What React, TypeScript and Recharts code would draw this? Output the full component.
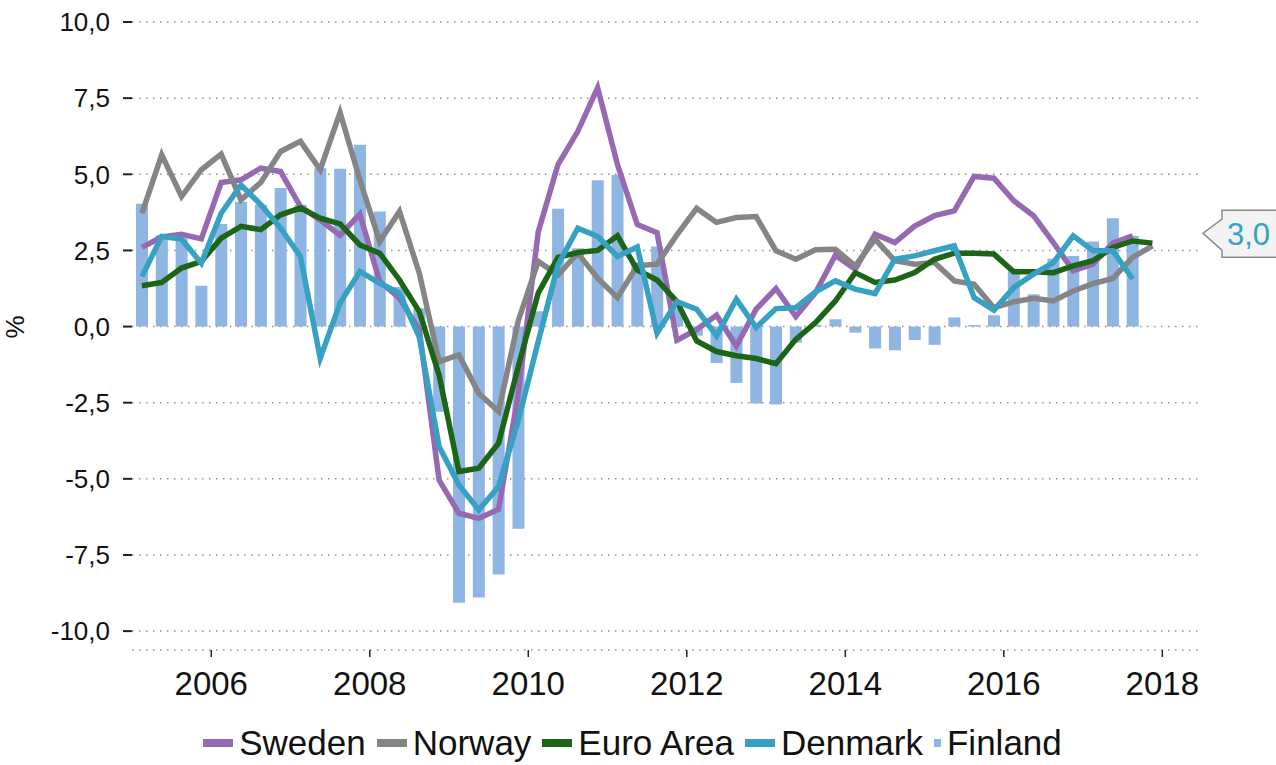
import { ComposedChart, Line, Bar, XAxis, YAxis, CartesianGrid, Legend, ReferenceDot } from 'recharts';

const FONT = '"Liberation Sans", Arial, sans-serif';

const YEARS = [2005, 2006, 2007, 2008, 2009, 2010, 2011, 2012, 2013, 2014, 2015, 2016, 2017];
const QUARTERS = YEARS.flatMap((y) => [1, 2, 3, 4].map((q) => `${y}Q${q}`));

// annual growth, %, per quarter from 2005Q1
const SWEDEN = [
  2.6, 2.94, 3.03, 2.88, 4.73, 4.82, 5.2, 5.09, 3.94, 3.5,
  3.0, 3.69, 1.48, 0.93, -0.1, -5.04, -6.13, -6.3, -6.0, -2.2,
  3.1, 5.32, 6.41, 7.84, 5.32, 3.35, 3.08, -0.45, -0.1, 0.37,
  -0.64, 0.57, 1.25, 0.33, 1.12, 2.34, 1.88, 3.03, 2.76, 3.3,
  3.64, 3.8, 4.93, 4.87, 4.13, 3.64, 2.76, 1.83, 2.05, 2.74,
  2.98,
];
const NORWAY = [
  3.72, 5.64, 4.27, 5.15, 5.66, 4.16, 4.73, 5.75, 6.08, 5.15,
  7.03, 4.82, 2.79, 3.78, 1.75, -1.15, -0.93, -2.19, -2.79, 0.2,
  2.14, 1.7, 2.41, 1.59, 0.95, 2.0, 2.05, 3.01, 3.88, 3.42,
  3.58, 3.61, 2.49, 2.21, 2.52, 2.54, 1.99, 2.87, 2.16, 2.05,
  2.1, 1.5, 1.39, 0.62, 0.81, 0.93, 0.84, 1.17, 1.41, 1.58,
  2.27, 2.65,
];
const EURO_AREA = [
  1.34, 1.45, 1.92, 2.14, 2.9, 3.29, 3.18, 3.67, 3.89, 3.56,
  3.37, 2.68, 2.41, 1.53, 0.49, -1.6, -4.76, -4.65, -3.83, -1.3,
  1.1, 2.27, 2.43, 2.5, 2.98, 1.86, 1.53, 0.82, -0.47, -0.82,
  -0.96, -1.05, -1.22, -0.42, 0.13, 0.84, 1.77, 1.45, 1.53, 1.77,
  2.21, 2.41, 2.41, 2.38, 1.8, 1.8, 1.77, 1.99, 2.16, 2.6,
  2.81, 2.74,
];
const DENMARK = [
  1.64, 2.96, 2.87, 2.08, 3.72, 4.65, 4.0, 3.23, 2.3, -1.04,
  0.77, 1.81, 1.42, 1.1, -0.35, -3.94, -5.2, -6.02, -5.26, -3.07,
  -0.5, 2.03, 3.23, 2.96, 2.3, 2.61, -0.22, 0.82, 0.57, -0.31,
  0.9, -0.03, 0.59, 0.62, 1.14, 1.5, 1.23, 1.08, 2.21, 2.32,
  2.49, 2.65, 0.95, 0.54, 1.28, 1.72, 2.1, 2.98, 2.49, 2.49,
  1.56,
];
const FINLAND = [
  4.03, 3.0, 2.9, 1.34, 3.37, 4.1, 4.0, 4.55, 4.0, 5.2,
  5.18, 5.97, 3.78, 1.3, 0.6, -2.8, -9.07, -8.9, -8.14, -6.64,
  0.5, 3.87, 2.57, 4.8, 4.98, 2.1, 2.63, 0.6, -0.3, -1.2,
  -1.85, -2.53, -2.56, -0.53, 0.05, 0.24, -0.2, -0.72, -0.78, -0.44,
  -0.6, 0.3, 0.05, 0.37, 1.9, 1.06, 2.23, 2.32, 2.79, 3.56,
  2.98,
];

const X_TICKS = [2006, 2008, 2010, 2012, 2014, 2016, 2018];
const Y_TICKS = [-10, -7.5, -5, -2.5, 0, 2.5, 5, 7.5, 10];
const CALLOUT_VALUE = 3.0;

const COLORS = {
  sweden: '#9769b3',
  norway: '#858585',
  euro: '#1c6416',
  denmark: '#36a1c2',
  finland: '#8fb5e3',
};

const LEGEND_ITEMS = [
  { name: 'Sweden', color: COLORS.sweden, kind: 'line' },
  { name: 'Norway', color: COLORS.norway, kind: 'line' },
  { name: 'Euro Area', color: COLORS.euro, kind: 'line' },
  { name: 'Denmark', color: COLORS.denmark, kind: 'line' },
  { name: 'Finland', color: COLORS.finland, kind: 'bar' },
];

// mid-quarter as decimal year
const toYear = (q: string) => Number(q.slice(0, 4)) + (Number(q.slice(5)) - 0.5) / 4;

const data = QUARTERS.map((q, i) => ({
  t: toYear(q),
  sweden: SWEDEN[i] ?? null,
  norway: NORWAY[i] ?? null,
  euro: EURO_AREA[i] ?? null,
  denmark: DENMARK[i] ?? null,
  finland: FINLAND[i] ?? null,
}));

const fmt = (v: number) => v.toFixed(1).replace('.', ',');

function ChartLegend() {
  return (
    <div
      style={{
        display: 'flex',
        justifyContent: 'center',
        alignItems: 'center',
        height: 42,
        lineHeight: '42px',
        fontFamily: FONT,
        fontSize: 35,
        color: '#111',
        whiteSpace: 'nowrap',
      }}
    >
      {LEGEND_ITEMS.map((it) => (
        <span key={it.name} style={{ display: 'flex', alignItems: 'center', marginRight: 11 }}>
          <span
            style={{
              display: 'inline-block',
              width: it.kind === 'line' ? 30 : 7,
              height: 8,
              background: it.color,
              marginRight: 6,
            }}
          />
          {it.name}
        </span>
      ))}
    </div>
  );
}

function Callout(props: any) {
  const { cx, cy } = props;
  const tx = cx + 5;
  const ty = cy - 2;
  const left = tx + 19;
  const d = `M${left},${ty - 23} L${left},${ty - 14} L${tx},${ty} L${left},${ty + 17} L${left},${ty + 24} L${left + 80},${ty + 24} L${left + 80},${ty - 23} Z`;
  return (
    <g>
      <path d={d} fill="#f3f3f3" stroke="#8a8a8a" strokeWidth={1.5} />
      <text x={left + 5} y={ty + 12} fill={COLORS.denmark} fontSize={31} fontFamily={FONT}>
        {fmt(CALLOUT_VALUE)}
      </text>
    </g>
  );
}

export default function App() {
  return (
    <div style={{ position: 'absolute', left: 0, top: 0, width: 1276, height: 765, background: '#fff' }}>
      <ComposedChart
        width={1276}
        height={765}
        data={data}
        margin={{ top: 22, right: 78, bottom: 15, left: 0 }}
      >
        <CartesianGrid
          vertical={false}
          stroke="#8f8f8f"
          strokeWidth={1.5}
          strokeDasharray="1.5 5.5"
        />
        <XAxis
          type="number"
          dataKey="t"
          domain={[2005, 2018.45]}
          ticks={X_TICKS}
          allowDataOverflow
          axisLine={false}
          tickLine={{ stroke: '#222', strokeWidth: 1.5 }}
          tickSize={7}
          tickMargin={15}
          height={58}
          tick={{ fill: '#111', fontSize: 33, fontFamily: FONT }}
        />
        <YAxis
          domain={[-10.62, 10]}
          ticks={Y_TICKS}
          allowDataOverflow
          width={132}
          axisLine={false}
          tickLine={{ stroke: '#222', strokeWidth: 2 }}
          tickSize={9}
          tickMargin={13}
          tickFormatter={fmt}
          tick={{ fill: '#111', fontSize: 26, fontFamily: FONT }}
          label={{
            content: () => (
              <text
                x={24}
                y={327}
                transform="rotate(-90 24 327)"
                textAnchor="middle"
                fontSize={26}
                fontFamily={FONT}
                fill="#111"
              >
                %
              </text>
            ),
          }}
        />
        <Legend content={<ChartLegend />} wrapperStyle={{ top: 722, left: 0, width: 1276, height: 42 }} />
        <Bar dataKey="finland" name="Finland" fill={COLORS.finland} barSize={12} isAnimationActive={false} />
        <Line type="linear" dataKey="sweden" name="Sweden" stroke={COLORS.sweden} strokeWidth={5.5} dot={false} isAnimationActive={false} />
        <Line type="linear" dataKey="norway" name="Norway" stroke={COLORS.norway} strokeWidth={5.5} dot={false} isAnimationActive={false} />
        <Line type="linear" dataKey="euro" name="Euro Area" stroke={COLORS.euro} strokeWidth={5.5} dot={false} isAnimationActive={false} />
        <Line type="linear" dataKey="denmark" name="Denmark" stroke={COLORS.denmark} strokeWidth={5.5} dot={false} isAnimationActive={false} />
        <ReferenceDot x={2018.45} y={CALLOUT_VALUE} ifOverflow="visible" shape={<Callout />} />
      </ComposedChart>
    </div>
  );
}
